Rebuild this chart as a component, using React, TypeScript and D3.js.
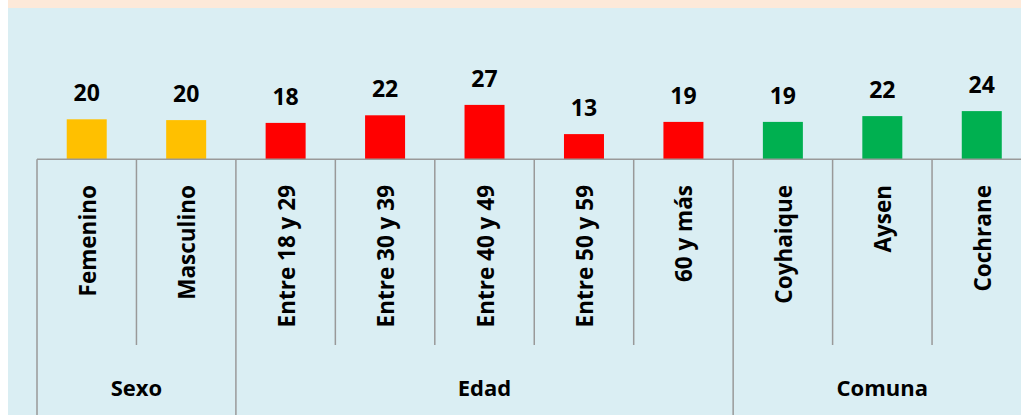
import React from "react";
import * as d3 from "d3";

const categories = ["Femenino", "Masculino", "Entre 18 y 29", "Entre 30 y 39", "Entre 40 y 49", "Entre 50 y 59", "60 y más", "Coyhaique", "Aysen", "Cochrane"];
const values = [20.0, 19.6, 18.2, 22.0, 27.2, 12.6, 18.7, 18.7, 21.6, 24.1];
const groupOf = ["Sexo", "Sexo", "Edad", "Edad", "Edad", "Edad", "Edad", "Comuna", "Comuna", "Comuna"];
const groups = ["Sexo", "Edad", "Comuna"];
const groupColors: Record<string, string> = { Sexo: "#FFC000", Edad: "#FF0000", Comuna: "#00B050" };

const W = 1021;
const H = 415;
const FONT = "'Open Sans', 'Noto Sans', sans-serif";

export default function App() {
  const left = 37;
  const step = 99.45;
  const x = d3.scaleBand<string>().domain(categories).range([left, left + step * categories.length]).padding(0);
  const baseY = 159.3;
  const y = d3.scaleLinear().domain([0, 30]).range([baseY, baseY - 60]);
  const bw = 40;
  const tickBottom = 345;

  const groupSpans = groups.map((g) => {
    const cats = categories.filter((_, i) => groupOf[i] === g);
    const x0 = x(cats[0])!;
    const x1 = x(cats[cats.length - 1])! + x.bandwidth();
    return { g, x0, x1 };
  });
  const groupEdges = new Set<number>();
  groupSpans.forEach((s) => { groupEdges.add(Math.round(s.x0 * 100)); groupEdges.add(Math.round(s.x1 * 100)); });

  const edges: number[] = [];
  for (let i = 0; i <= categories.length; i++) edges.push(left + step * i);

  const lineColor = "#999999";

  return (
    <svg width={W} height={H} style={{ position: "absolute", left: 0, top: 0, display: "block" }} fontFamily={FONT}>
      <rect x={0} y={0} width={W} height={H} fill="#ffffff" />
      <rect x={8} y={0} width={W - 8} height={8} fill="#FDE9D9" />
      <rect x={8} y={8} width={W - 8} height={H - 8} fill="#DAEEF3" />

      {categories.map((c, i) => {
        const cx = x(c)! + x.bandwidth() / 2;
        const top = y(values[i]);
        return (
          <g key={c}>
            <rect x={cx - bw / 2} y={top} width={bw} height={baseY - top} fill={groupColors[groupOf[i]]} />
            <text x={cx} y={top - 18} textAnchor="middle" fontSize={23} fontWeight={700} fill="#000">
              {Math.round(values[i])}
            </text>
            <text
              transform={`translate(${cx + 9},185) rotate(-90)`}
              textAnchor="end"
              fontSize={22.5}
              fontWeight={700}
              fill="#000"
            >
              {c}
            </text>
          </g>
        );
      })}

      <line x1={left} x2={W} y1={baseY} y2={baseY} stroke={lineColor} strokeWidth={1.5} />
      {edges.map((ex, i) => {
        const isGroup = groupEdges.has(Math.round(ex * 100));
        return (
          <line key={i} x1={ex} x2={ex} y1={baseY} y2={isGroup ? H : tickBottom} stroke={lineColor} strokeWidth={1.5} />
        );
      })}

      {groupSpans.map((s) => (
        <text key={s.g} x={(s.x0 + s.x1) / 2} y={396} textAnchor="middle" fontSize={22} fontWeight={700} fill="#000">
          {s.g}
        </text>
      ))}
    </svg>
  );
}
